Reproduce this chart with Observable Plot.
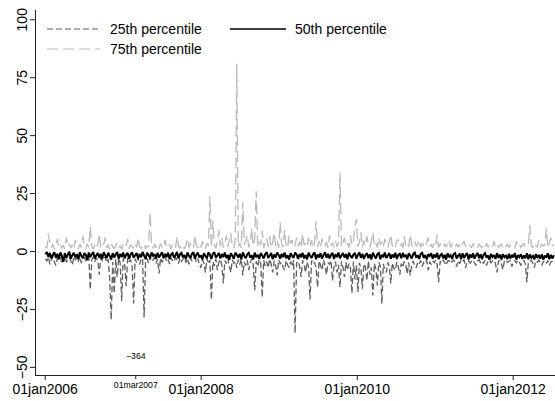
<!DOCTYPE html>
<html><head><meta charset="utf-8">
<script src="https://cdn.jsdelivr.net/npm/d3@7"></script>
<script src="https://cdn.jsdelivr.net/npm/@observablehq/plot@0.6"></script>
<style>html,body{margin:0;padding:0;background:#fff;} #chart{width:555px;height:401px;overflow:hidden;}</style>
</head><body><div id="chart"></div>
<script>
// weekly observations starting on this date
const startDate = "2006-01-02";
const stepDays = 7;

const p25 = [
-3.1,-4.2,-2.4,-5.5,-3.6,-2.2,-4.5,-6.0,-2.8,-3.9,
-2.5,-5.2,-3.3,-2.1,-4.6,-3.0,-2.6,-4.0,-5.8,-2.3,
-3.7,-2.7,-4.4,-2.0,-5.0,-3.4,-2.5,-4.1,-3.2,-2.2,
-16.4,-3.5,-2.4,-4.3,-2.9,-3.8,-10.0,-2.6,-4.0,-3.1,
-2.3,-4.7,-3.3,-12.0,-29.4,-4.5,-18.0,-3.2,-11.0,-2.8,
-4.9,-21.4,-3.0,-5.3,-15.0,-2.7,-4.4,-3.6,-6.5,-22.4,
-3.1,-4.8,-2.5,-5.6,-3.4,-2.9,-28.5,-4.1,-3.0,-5.0,
-2.4,-4.3,-3.7,-2.6,-5.1,-3.3,-9.5,-2.8,-4.6,-3.5,
-2.2,-4.0,-3.1,-5.4,-2.7,-3.9,-4.5,-2.5,-3.6,-5.2,
-2.9,-4.2,-3.4,-2.3,-4.8,-3.1,-5.5,-2.6,-4.0,-3.3,
-2.5,-4.6,-3.0,-5.8,-7.0,-3.5,-4.9,-9.0,-2.8,-5.3,
-3.6,-20.7,-4.4,-6.2,-3.1,-8.0,-4.7,-3.3,-5.9,-13.8,
-3.9,-5.2,-2.9,-6.4,-9.0,-3.6,-5.0,-4.1,-7.0,-3.4,
-5.6,-3.2,-10.3,-4.5,-6.0,-3.7,-8.0,-4.9,-3.1,-5.7,
-16.8,-4.2,-6.5,-3.5,-5.1,-19.7,-3.8,-6.2,-4.4,-7.0,
-3.3,-5.5,-9.0,-4.0,-6.1,-10.3,-3.6,-5.3,-4.6,-6.8,
-8.0,-3.9,-5.8,-7.0,-4.3,-6.4,-3.7,-35.2,-5.0,-4.2,
-6.3,-11.0,-3.8,-5.6,-9.0,-4.5,-6.7,-20.7,-3.9,-5.4,
-4.7,-6.9,-15.4,-4.1,-5.9,-8.0,-3.6,-6.2,-10.0,-4.8,
-5.5,-3.9,-12.5,-6.6,-4.4,-9.0,-5.7,-15.4,-4.2,-6.8,
-11.0,-4.6,-8.0,-5.2,-7.1,-18.0,-4.3,-12.0,-6.0,-17.5,
-4.9,-7.3,-16.0,-5.4,-6.5,-12.5,-4.1,-10.0,-6.9,-19.0,
-5.1,-7.5,-14.6,-4.6,-6.2,-22.5,-5.3,-7.8,-9.0,-4.7,
-6.4,-13.8,-5.0,-7.2,-8.0,-4.5,-6.6,-10.0,-5.2,-6.9,
-4.3,-5.9,-9.6,-4.8,-10.3,-5.6,-4.1,-6.3,-7.0,-4.6,
-5.4,-3.9,-6.5,-4.7,-5.2,-3.8,-8.0,-4.4,-5.6,-4.0,
-4.9,-3.7,-5.5,-13.2,-4.2,-5.0,-3.6,-4.8,-6.0,-4.1,
-3.9,-5.1,-4.3,-3.6,-4.7,-6.5,-4.0,-5.3,-3.8,-4.5,
-3.5,-7.0,-4.4,-3.9,-5.0,-4.2,-3.7,-4.9,-6.0,-4.1,
-3.6,-4.8,-4.0,-5.2,-3.8,-6.0,-4.3,-3.5,-4.9,-4.1,
-3.7,-5.1,-9.0,-4.2,-3.9,-5.4,-7.8,-4.0,-3.6,-4.7,
-4.3,-3.8,-6.5,-4.5,-4.0,-5.0,-3.7,-4.6,-6.0,-4.2,
-3.9,-5.3,-13.2,-4.4,-4.1,-3.8,-5.1,-7.0,-4.0,-4.6,
-3.7,-4.9,-6.0,-4.3,-4.0,-5.2,-3.9,-6.0,-4.5,-4.2,
-4.8
];

const p50 = [
-1.2,-0.2,-2.4,-0.6,-3.0,-1.5,-0.3,-2.7,-1.0,-3.2,
-0.4,-1.9,-4.4,-0.7,-2.8,-1.3,-0.1,-3.1,-1.6,-0.5,
-2.6,-1.1,-3.3,-0.3,-1.8,-2.9,-0.7,-1.4,-3.8,-0.4,
-2.4,-1.2,-0.2,-3.0,-1.7,-0.6,-2.7,-1.0,-3.3,-0.3,
-1.6,-2.8,-0.5,-1.9,-3.5,-0.7,-2.6,-1.3,-0.2,-3.1,
-1.1,-2.4,-0.4,-2.9,-1.4,-0.6,-3.2,-1.2,-0.3,-2.7,
-1.7,-0.7,-3.0,-1.0,-2.5,-0.2,-1.8,-3.3,-0.5,-1.5,
-2.8,-0.4,-1.9,-1.1,-3.1,-0.6,-2.6,-1.4,-0.3,-2.9,
-1.0,-2.4,-0.5,-3.2,-1.3,-0.7,-2.7,-1.6,-0.2,-3.0,
-1.2,-0.6,-2.5,-1.5,-3.3,-0.4,-1.8,-2.8,-1.0,-0.3,
-3.1,-1.3,-0.5,-2.6,-1.6,-3.4,-0.7,-1.9,-2.9,-0.4,
-1.4,-3.2,-1.0,-0.3,-2.7,-1.7,-0.6,-3.0,-1.1,-2.4,
-0.4,-2.8,-1.5,-3.6,-0.7,-1.8,-3.1,-0.5,-1.3,-2.6,
-1.0,-3.3,-0.4,-1.9,-2.9,-1.2,-0.6,-2.7,-1.6,-3.4,
-0.5,-2.5,-1.4,-3.2,-0.7,-1.7,-3.0,-1.1,-0.3,-2.8,
-1.8,-0.6,-3.3,-1.3,-2.6,-0.4,-1.5,-3.1,-1.0,-2.4,
-0.5,-2.9,-1.6,-3.5,-0.7,-1.9,-2.7,-0.4,-1.4,-3.2,
-1.1,-2.4,-0.6,-3.0,-1.5,-3.4,-0.5,-1.8,-2.8,-1.2,
-0.4,-3.3,-1.3,-2.5,-0.7,-3.1,-1.6,-0.3,-2.7,-1.0,
-3.0,-1.4,-0.6,-3.2,-1.2,-2.4,-0.4,-2.9,-1.7,-0.7,
-2.6,-1.1,-3.3,-0.5,-1.9,-2.8,-1.3,-0.6,-3.1,-1.5,
-0.4,-2.7,-1.0,-3.2,-1.6,-0.7,-2.9,-1.2,-3.4,-0.5,
-1.8,-3.0,-1.1,-0.6,-3.3,-1.4,-2.5,-0.4,-2.8,-1.7,
-0.7,-3.1,-1.3,-2.6,-0.5,-3.2,-1.5,-1.0,-2.9,-0.6,
-2.4,-1.4,-3.3,-0.7,-1.8,-3.0,-1.1,-0.5,-2.7,-1.6,
-3.2,-1.0,-0.6,-2.8,-1.5,-3.4,-1.2,-1.9,-0.7,-3.1,
-1.3,-2.6,-0.6,-3.3,-1.7,-1.0,-2.9,-1.4,-3.5,-0.7,
-2.4,-1.6,-3.2,-1.1,-0.7,-3.0,-1.8,-1.2,-3.3,-0.8,
-2.8,-1.5,-0.7,-3.4,-1.3,-2.6,-0.8,-3.1,-1.6,-0.6,
-2.9,-1.2,-3.3,-1.4,-0.7,-2.7,-1.7,-3.5,-1.0,-2.4,
-1.5,-3.2,-0.7,-2.8,-1.3,-3.4,-1.1,-2.5,-1.8,-3.3,
-1.0,-3.0,-1.4,-2.6,-0.7,-3.5,-1.6,-2.4,-1.2,-3.2,
-1.7,-2.9,-0.8,-3.3,-1.3,-2.7,-1.9,-3.4,-1.1,-2.8,
-1.5,-3.1,-1.2,-3.5,-1.8,-2.6,-0.8,-3.3,-1.4,-3.0,
-1.6
];

const p75 = [
2.4,1.3,7.7,2.8,1.6,3.2,1.1,2.6,5.5,1.9,
3.0,1.4,2.7,1.2,6.0,2.2,3.3,1.5,2.9,1.0,
5.0,2.1,1.3,3.1,1.8,6.5,2.5,1.2,3.4,1.7,
10.8,2.3,1.1,3.0,1.6,2.8,7.7,1.4,2.6,3.2,
6.0,1.5,2.9,1.1,3.3,2.0,1.3,2.7,3.5,1.6,
2.4,1.0,3.1,1.8,2.6,5.5,1.2,3.0,2.2,1.5,
3.3,1.7,6.0,2.1,1.3,2.9,3.4,1.1,2.5,1.9,
17.0,2.7,1.4,3.2,1.6,2.8,1.2,3.5,2.0,1.3,
5.0,2.4,1.5,3.0,1.1,2.7,3.3,1.6,6.5,2.2,
1.4,3.1,2.0,1.2,2.9,5.5,1.7,3.4,2.3,1.3,
7.0,2.6,1.5,3.2,1.8,4.5,2.1,1.3,3.6,2.4,
23.7,1.6,13.4,2.8,1.4,4.2,9.0,2.2,6.0,1.7,
3.5,7.0,1.9,4.8,8.0,2.3,1.5,5.2,81.0,2.0,
3.8,1.6,21.3,2.9,4.6,7.0,1.8,3.3,10.0,2.4,
5.5,26.0,1.9,4.2,2.7,9.0,1.5,3.6,5.8,2.1,
6.5,1.7,3.9,8.0,2.4,4.7,1.6,12.6,3.1,2.0,
9.5,2.6,1.4,7.0,3.4,5.0,1.8,2.9,6.0,2.2,
4.4,1.6,7.5,2.8,3.6,1.9,6.0,2.4,4.9,1.5,
3.2,13.0,2.0,4.5,1.7,5.5,3.0,2.3,4.1,1.6,
7.0,2.5,3.8,1.8,4.6,2.2,3.3,34.2,1.9,4.0,
6.0,2.3,3.5,1.7,7.0,2.8,4.3,11.0,14.0,2.1,
3.9,8.3,1.8,4.7,2.6,6.5,3.1,1.9,4.4,8.3,
2.4,3.6,1.7,6.0,2.9,4.2,2.0,5.5,3.3,1.8,
4.1,7.3,2.2,3.5,1.9,4.8,5.0,2.5,3.2,1.7,
6.5,2.6,3.9,2.0,7.3,3.0,1.8,4.3,2.4,3.1,
5.0,1.9,3.4,2.6,1.7,3.8,6.0,2.2,3.0,1.6,
3.5,2.3,7.2,1.8,3.2,2.7,1.5,3.6,2.1,2.9,
5.0,1.7,3.1,2.4,1.6,3.4,2.0,2.8,1.5,3.3,
4.5,2.2,1.6,3.0,2.5,1.8,3.5,2.1,2.9,1.6,
3.2,2.4,1.7,3.0,2.0,3.6,1.8,2.7,2.3,1.5,
4.5,2.1,3.1,1.8,2.6,3.4,1.6,2.9,2.2,3.3,
1.7,2.8,3.0,2.0,1.6,4.5,2.4,3.2,1.8,2.7,
3.5,1.9,2.6,3.1,11.2,2.2,1.7,3.6,2.5,2.0,
5.0,1.8,3.3,2.4,2.9,10.0,1.6,3.4,6.0,2.3,
3.1
];

const seriesNames = ["25th percentile", "50th percentile", "75th percentile"];
const xTicks = ["2006-01-01", "2008-01-01", "2010-01-01", "2012-01-01"];
const xMinorTicks = ["2007-03-01"];
const yTicks = [-50, -25, 0, 25, 50, 75, 100];
const notes = [{date: "2007-03-01", value: -45, label: "−364"}];

const colors = {"25th percentile": "#5f5f5f", "50th percentile": "#000000", "75th percentile": "#bababa"};
const dashes = {"25th percentile": "6,3", "50th percentile": null, "75th percentile": "11,5"};
const widths = {"25th percentile": 1.3, "50th percentile": 2, "75th percentile": 1.3};

const start = new Date(startDate + "T00:00:00Z");
const toRows = (vals, name) => vals.map((v, i) => ({date: d3.utcDay.offset(start, i * stepDays), v, series: name}));
const rows25 = toRows(p25, seriesNames[0]);
const rows50 = toRows(p50, seriesNames[1]);
const rows75 = toRows(p75, seriesNames[2]);

const parse = s => new Date(s + "T00:00:00Z");
const fmtDate = d => d3.utcFormat("%d%b%Y")(d).toLowerCase();
const fmtNum = v => v < 0 ? "−" + (-v) : String(v);

// x scale calibration: 01jan2006 at 44.7px, 01jan2012 at 512.7px, plot spans 35..555
const t06 = Date.UTC(2006, 0, 1), t12 = Date.UTC(2012, 0, 1);
const k = (512.7 - 44.7) / (t12 - t06);
const xDomain = [new Date(t06 - (44.7 - 35) / k), new Date(t12 + (555 - 512.7) / k)];

const font = "'Liberation Sans', Arial, Helvetica, sans-serif";

const lineOpts = (name) => ({
  x: "date", y: "v", stroke: colors[name], strokeWidth: widths[name],
  strokeDasharray: dashes[name] || undefined, strokeLinecap: "butt", strokeLinejoin: "miter", strokeMiterlimit: 2
});

const plot = Plot.plot({
  width: 555, height: 401,
  marginLeft: 35, marginRight: 0, marginTop: 10, marginBottom: 26,
  style: {fontFamily: font, fontSize: "14px", color: "#000", background: "#fff"},
  x: {type: "utc", domain: xDomain},
  y: {domain: [-53.5, 104]},
  marks: [
    Plot.line(rows25, lineOpts(seriesNames[0])),
    Plot.line(rows50, lineOpts(seriesNames[1])),
    Plot.line(rows75, lineOpts(seriesNames[2])),
    Plot.ruleX([xDomain[0]], {stroke: "#222", strokeWidth: 1}),
    Plot.ruleY([-53.5], {stroke: "#222", strokeWidth: 1}),
    Plot.axisX({ticks: xTicks.map(parse), tickSize: 5, tickPadding: 4, tickFormat: fmtDate, stroke: "#222", fontSize: 14, label: null}),
    Plot.axisX({ticks: xMinorTicks.map(parse), tickSize: 4, tickPadding: 2, tickFormat: fmtDate, stroke: "#222", fontSize: 8.7, label: null}),
    Plot.axisY({ticks: yTicks, tickSize: 5, tickFormat: () => "", stroke: "#222", label: null}),
    Plot.text(yTicks, {y: d => d, text: fmtNum, frameAnchor: "left", dx: -9, rotate: -90, textAnchor: "middle", lineAnchor: "bottom", fontSize: 14, fill: "#000"}),
    Plot.text(notes, {x: d => parse(d.date), y: "value", text: "label", fontSize: 8.7, fill: "#000"})
  ]
});

// legend (inside the plot region, Stata-style, no frame)
const svg = d3.select(plot);
const legendItems = [
  {name: seriesNames[0], x0: 47, x1: 100, tx: 110, y: 29},
  {name: seriesNames[1], x0: 230, x1: 286, tx: 295, y: 29},
  {name: seriesNames[2], x0: 47, x1: 100, tx: 110, y: 49}
];
const lg = svg.append("g").attr("font-family", font).attr("font-size", 14).attr("text-anchor", "start");
for (const it of legendItems) {
  lg.append("line").attr("x1", it.x0).attr("x2", it.x1).attr("y1", it.y).attr("y2", it.y)
    .attr("stroke", colors[it.name]).attr("stroke-width", it.name === seriesNames[1] ? 1.5 : 1.2)
    .attr("stroke-dasharray", dashes[it.name]);
  lg.append("text").attr("x", it.tx).attr("y", it.y).attr("dy", "0.35em").attr("fill", "#000")
    .attr("text-anchor", "start").text(it.name);
}
document.getElementById("chart").appendChild(plot);
</script>
</body></html>
